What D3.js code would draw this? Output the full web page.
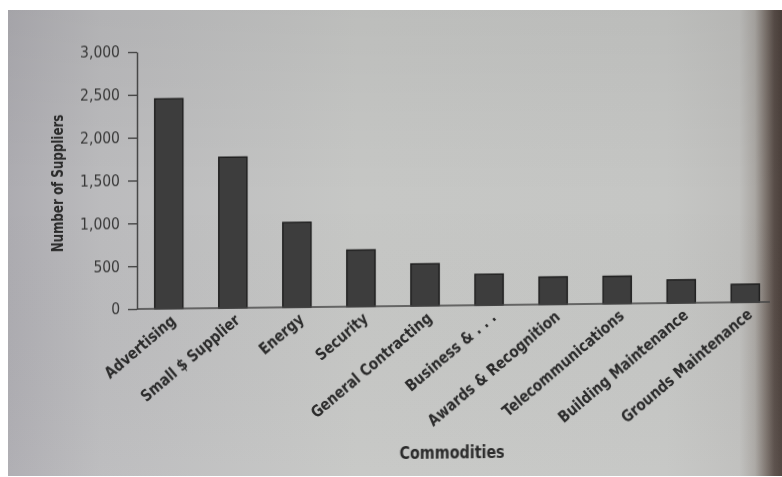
<!DOCTYPE html>
<html>
<head>
<meta charset="utf-8">
<script src="https://cdn.jsdelivr.net/npm/d3@7"></script>
<style>
  html, body { margin: 0; padding: 0; background: #ffffff; }
  svg { display: block; }
</style>
</head>
<body>
<svg id="chart" width="782" height="477"></svg>
<script>
// Number of suppliers per commodity
const categories = [
  "Advertising", "Small $ Supplier", "Energy", "Security", "General Contracting",
  "Business & . . .", "Awards & Recognition", "Telecommunications",
  "Building Maintenance", "Grounds Maintenance"
];
const suppliers = [2450, 1760, 990, 660, 490, 360, 320, 320, 270, 210];
const yTicks = [0, 500, 1000, 1500, 2000, 2500, 3000];
const yTitle = "Number of Suppliers";
const xTitle = "Commodities";

const svg = d3.select("#chart");
const W = 782, H = 477;

const defs = svg.append("defs");

// Paper tone, darkening into the binding on the right
const paper = defs.append("linearGradient").attr("id", "paper")
  .attr("x1", "0%").attr("x2", "100%").attr("y1", "0%").attr("y2", "0%");
[["0%", "#adacb1"], ["12%", "#bbbbbd"], ["45%", "#c6c7c5"], ["85%", "#c5c6c4"],
 ["94.5%", "#bfbfbd"], ["96.5%", "#aaa7a3"], ["98%", "#7a716b"], ["99%", "#584d48"], ["100%", "#4b403b"]]
  .forEach(([o, c]) => paper.append("stop").attr("offset", o).attr("stop-color", c));

const shade = defs.append("linearGradient").attr("id", "shade")
  .attr("x1", "0%").attr("x2", "0%").attr("y1", "0%").attr("y2", "100%");
[["0%", "#000", 0.05], ["40%", "#000", 0.0], ["100%", "#fff", 0.04]]
  .forEach(([o, c, a]) => shade.append("stop").attr("offset", o)
    .attr("stop-color", c).attr("stop-opacity", a));

const soft = defs.append("filter").attr("id", "soft")
  .attr("x", "-5%").attr("y", "-5%").attr("width", "110%").attr("height", "110%");
soft.append("feGaussianBlur").attr("stdDeviation", 0.55);

svg.append("rect").attr("x", 8).attr("y", 10).attr("width", W - 8).attr("height", 466)
  .attr("fill", "url(#paper)");
svg.append("rect").attr("x", 8).attr("y", 10).attr("width", W - 8).attr("height", 466)
  .attr("fill", "url(#shade)");

// Plot geometry
const x0 = 137, yBase = 309, yTop = 52;
const x = d3.scaleBand().domain(categories).range([138, 776])
  .paddingInner(0.56).paddingOuter(0.26);
const y = d3.scaleLinear().domain([0, 3000]).range([yBase, yTop]);

// The printed page sits at a slight slant
const g = svg.append("g")
  .attr("transform", `translate(${x0},0) skewY(-0.64) translate(${-x0},0)`)
  .attr("filter", "url(#soft)");

const ink = "#2b2b2b";
const narrow = "'Liberation Sans Narrow', 'DejaVu Sans Condensed', sans-serif";

// Bars
g.append("g").selectAll("rect").data(suppliers).join("rect")
  .attr("x", (d, i) => x(categories[i]))
  .attr("y", d => y(d))
  .attr("width", x.bandwidth())
  .attr("height", d => yBase - y(d))
  .attr("fill", "#3d3d3d")
  .attr("stroke", "#1c1c1c")
  .attr("stroke-width", 1.4);

// Y axis
const yAxis = d3.axisLeft(y).tickValues(yTicks)
  .tickFormat(d3.format(","))
  .tickSize(9).tickSizeOuter(0).tickPadding(8);
const ya = g.append("g").attr("transform", `translate(${x0},0)`).call(yAxis);
ya.select(".domain").attr("stroke", "#444").attr("stroke-width", 1.5);
ya.selectAll(".tick line").attr("stroke", "#444").attr("stroke-width", 1.4);
ya.selectAll(".tick text")
  .attr("fill", "#383838")
  .style("font-family", "'DejaVu Sans Condensed', 'DejaVu Sans', sans-serif")
  .style("font-size", "15.5px");

// X axis baseline
const xAxis = d3.axisBottom(x).tickSize(0).tickPadding(0).tickFormat("");
const xa = g.append("g").attr("transform", `translate(0,${yBase})`).call(xAxis);
xa.select(".domain").attr("d", `M${x0},0H770`)
  .attr("stroke", "#444").attr("stroke-width", 1.6);

// Slanted category labels, set in a compressed bold face
g.append("g").selectAll("text").data(categories).join("text")
  .attr("transform", d => `translate(${x(d) + x.bandwidth() / 2 + 8},${yBase + 14}) rotate(-40) scale(0.93,1)`)
  .attr("text-anchor", "end")
  .attr("fill", ink)
  .style("font-family", narrow)
  .style("font-weight", "bold")
  .style("font-size", "16px")
  .text(d => d);

// Axis titles
g.append("text")
  .attr("transform", `translate(63,${(yTop + yBase) / 2 + 2}) rotate(-90) scale(0.88,1)`)
  .attr("text-anchor", "middle")
  .attr("fill", ink)
  .style("font-family", narrow)
  .style("font-weight", "bold")
  .style("font-size", "15px")
  .text(yTitle);

g.append("text")
  .attr("transform", "translate(452,462) scale(0.86,1)")
  .attr("text-anchor", "middle")
  .attr("fill", ink)
  .style("font-family", narrow)
  .style("font-weight", "bold")
  .style("font-size", "18.5px")
  .text(xTitle);
</script>
</body>
</html>
